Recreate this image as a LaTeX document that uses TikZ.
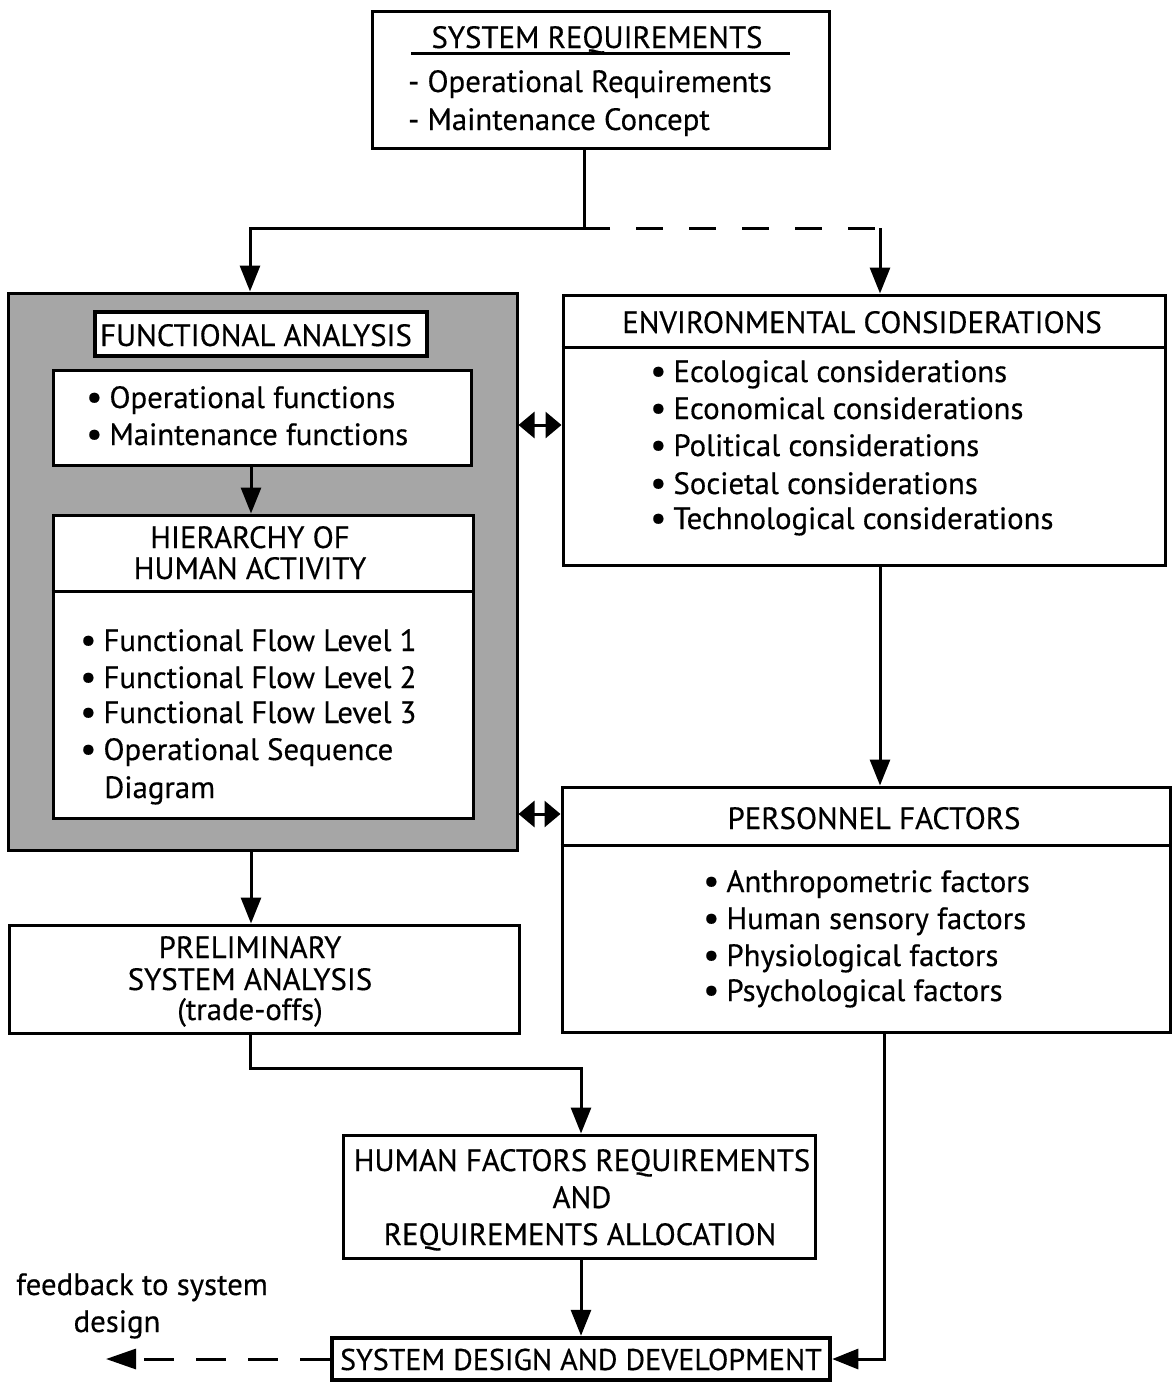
\documentclass[tikz,border=0pt]{standalone}
\usepackage{fontspec}
\setmainfont{PT Sans}[FakeBold=0.4]
\usetikzlibrary{arrows.meta}
% enlarged bullet followed by a fixed gap
\newcommand\blt{{\fontsize{36pt}{36pt}\selectfont\raisebox{-1pt}{•}}\hspace{7pt}}
\begin{document}
\begin{tikzpicture}[x=1pt,y=-1pt,
  every node/.style={font=\fontsize{30.8pt}{37pt}\selectfont, inner sep=0pt},
  box/.style={draw, line width=3pt, fill=white, rectangle},
  heavybox/.style={box, line width=4.5pt},
  shade/.style={draw, line width=3pt, fill=black!35, rectangle},
  txt/.style={anchor=base west},
  ctxt/.style={anchor=base},
  conn/.style={line width=3pt},
  arr/.style={conn, -{Triangle[length=26pt,width=20pt]}},
  dbl/.style={conn, {Triangle[length=16pt,width=26pt]}-{Triangle[length=16pt,width=26pt]}},
  dashline/.style={conn, dash pattern=on 27pt off 26pt, dash phase=27pt},
  fbline/.style={conn, dash pattern=on 30pt off 22pt, -{Triangle[length=30pt,width=20pt]}}
]
\useasboundingbox (0,0) rectangle (1174,1385);

% --- system requirements ---
\node[box, minimum width=457pt, minimum height=137pt] (sysreq) at (600.5,79.5) {};
\node[ctxt] (sysreqT) at (597,48) {SYSTEM REQUIREMENTS};
\draw[line width=3pt] (411,53) -- (790,53);
\node[txt] (sysreq1) at (408,92) {- Operational Requirements};
\node[txt] (sysreq2) at (408,130) {- Maintenance Concept};

% --- functional analysis group ---
\node[shade, minimum width=509pt, minimum height=557pt] (fabg) at (262.5,571.5) {};
\node[heavybox, minimum width=332pt, minimum height=44pt] (faT) at (261,334) {};
\node[ctxt] (faTxt) at (256,346) {FUNCTIONAL ANALYSIS};
\node[box, minimum width=418pt, minimum height=95pt] (ops) at (262,417.5) {};
\node[txt] (ops1) at (86,408) {\blt Operational functions};
\node[txt] (ops2) at (86,445) {\blt Maintenance functions};
\node[box, minimum width=420pt, minimum height=303pt] (hier) at (263,666.5) {};
\draw[line width=3pt] (hier.west |- 0,591) -- (hier.east |- 0,591);
\node[ctxt] (hierT1) at (250,548) {HIERARCHY OF};
\node[ctxt] (hierT2) at (250,579) {HUMAN ACTIVITY};
\node[txt] (hier1) at (80,651) {\blt Functional Flow Level 1};
\node[txt] (hier2) at (80,688) {\blt Functional Flow Level 2};
\node[txt] (hier3) at (80,723) {\blt Functional Flow Level 3};
\node[txt] (hier4) at (80,760) {\blt Operational Sequence};
\node[txt] (hier5) at (104,798) {Diagram};

% --- environmental considerations ---
\node[box, minimum width=602pt, minimum height=270pt] (env) at (864,430) {};
\draw[line width=3pt] (env.west |- 0,347) -- (env.east |- 0,347);
\node[ctxt] (envT) at (862,333) {ENVIRONMENTAL CONSIDERATIONS};
\node[txt] (env1) at (650,382) {\blt Ecological considerations};
\node[txt] (env2) at (650,419) {\blt Economical considerations};
\node[txt] (env3) at (650,456) {\blt Political considerations};
\node[txt] (env4) at (650,494) {\blt Societal considerations};
\node[txt] (env5) at (650,529) {\blt Technological considerations};

% --- personnel factors ---
\node[box, minimum width=608pt, minimum height=245pt] (pers) at (866,909.5) {};
\draw[line width=3pt] (pers.west |- 0,845) -- (pers.east |- 0,845);
\node[ctxt] (persT) at (874,829) {PERSONNEL FACTORS};
\node[txt] (pers1) at (703,892) {\blt Anthropometric factors};
\node[txt] (pers2) at (703,929) {\blt Human sensory factors};
\node[txt] (pers3) at (703,966) {\blt Physiological factors};
\node[txt] (pers4) at (703,1001) {\blt Psychological factors};

% --- preliminary system analysis ---
\node[box, minimum width=510pt, minimum height=108pt] (prelim) at (264,979) {};
\node[ctxt] (prelim1) at (250,958) {PRELIMINARY};
\node[ctxt] (prelim2) at (250,990) {SYSTEM ANALYSIS};
\node[ctxt] (prelim3) at (250,1020) {(trade-offs)};

% --- human factors requirements ---
\node[box, minimum width=472pt, minimum height=123pt] (hf) at (579,1196.5) {};
\node[ctxt] (hf1) at (582,1171) {HUMAN FACTORS REQUIREMENTS};
\node[ctxt] (hf2) at (582,1208) {AND};
\node[ctxt] (hf3) at (580,1245) {REQUIREMENTS ALLOCATION};

% --- system design and development ---
\node[heavybox, minimum width=498pt, minimum height=42pt] (sdd) at (581,1359) {};
\node[ctxt, font=\fontsize{30pt}{37pt}\selectfont] (sddT) at (581,1370) {SYSTEM DESIGN AND DEVELOPMENT};

\node[ctxt] (fb1) at (142,1295) {feedback to system};
\node[ctxt] (fb2) at (117,1332) {design};

% --- connectors ---
\coordinate (j) at (584,228);
\coordinate (jr) at (610,228);
\coordinate (fcol) at (250,228);
\coordinate (ecol) at (880,228);
\coordinate (fb) at (106,1359);
\coordinate (dblA) at (540,425);
\coordinate (dblB) at (540,814);
\draw[conn] (sysreq.south -| j) -- (j);
\draw[arr] (jr) -- (fcol) -- (fcol |- fabg.north);
\draw[dashline] (jr) -- (ecol);
\draw[arr] (ecol) -- (ecol |- env.north);
\draw[arr] (ops.south -| 251,0) -- (hier.north -| 251,0);
\draw[dbl] (fabg.east |- dblA) -- (env.west |- dblA);
\draw[dbl] (fabg.east |- dblB) -- (pers.west |- dblB);
\draw[arr] (env.south -| 880,0) -- (pers.north -| 880,0);
\draw[arr] (fabg.south -| 251,0) -- (prelim.north -| 251,0);
\draw[arr] (prelim.south -| 250,0) -- (250,1068) -| (hf.north -| 581,0);
\draw[arr] (hf.south -| 581,0) -- (sdd.north);
\draw[arr] (pers.south -| 884,0) |- (sdd.east);
\draw[fbline] (sdd.west) -- (fb);
\end{tikzpicture}
\end{document}
